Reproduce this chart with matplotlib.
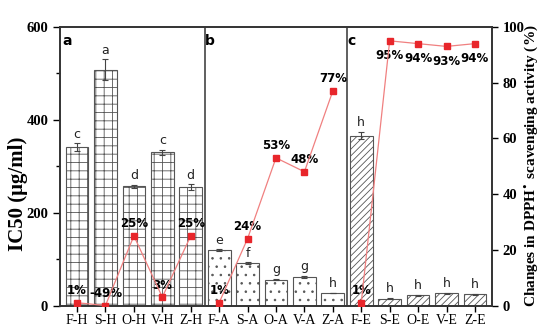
import numpy as np
import matplotlib
matplotlib.use("Agg")
import matplotlib.pyplot as plt

categories = ["F-H", "S-H", "O-H", "V-H", "Z-H",
              "F-A", "S-A", "O-A", "V-A", "Z-A",
              "F-E", "S-E", "O-E", "V-E", "Z-E"]
ic50 = [341, 508, 257, 330, 255,
        119, 91, 56, 62, 27,
        366, 15, 22, 26, 24]
ic50_err = [8, 22, 3, 5, 6,
            2, 2, 2, 2, 1,
            8, 1, 1, 1, 1]
letters = ["c", "a", "d", "c", "d",
           "e", "f", "g", "g", "h",
           "h", "h", "h", "h", "h"]
dpph_change = [1, -49, 25, 3, 25,
               1, 24, 53, 48, 77,
               1, 95, 94, 93, 94]
panel_labels = ["a", "b", "c"]
hatches = ["++", "..", "/////"]

serif = "Liberation Serif"

fig = plt.figure(figsize=(5.42, 3.27), dpi=100)
ax = fig.add_axes([0.1107, 0.0657, 0.797, 0.852])
ax2 = ax.twinx()

x = np.arange(len(categories))
plt.rcParams['hatch.linewidth'] = 0.6
plt.rcParams['hatch.color'] = "#555555"
for g in range(3):
    idx = x[g*5:(g+1)*5]
    ax.bar(idx, [ic50[i] for i in idx], width=0.8, color="white",
           edgecolor="#555555", linewidth=0.8, hatch=hatches[g],
           yerr=[ic50_err[i] for i in idx], error_kw=dict(ecolor="#444444", elinewidth=0.8, capsize=2, capthick=0.8),
           zorder=2)
for i in x:
    ax.text(i, ic50[i] + ic50_err[i] + 6, letters[i], ha="center", va="bottom",
            fontsize=9, color="#222222", family="DejaVu Sans")

ax.set_xlim(-0.6, 14.6)
ax.set_ylim(0, 600)
ax.set_yticks([0, 200, 400, 600])
ax.set_yticks([100, 300, 500], minor=True)
ax.set_xticks(x)
ax.set_xticklabels(categories, fontsize=10, family=serif)
for t in ax.get_yticklabels():
    t.set_fontfamily(serif); t.set_fontweight("bold"); t.set_fontsize(10.5)
ax.tick_params(axis="y", which="major", direction="out", length=5, width=1)
ax.tick_params(axis="y", which="minor", direction="out", length=3, width=1)
ax.tick_params(axis="x", direction="out", length=4, width=1, pad=2)
fig.text(18/542, 1 - 194/327, "IC50 (μg/ml)", rotation=90, ha="center", va="center",
         fontsize=15, fontweight="bold", family=serif)

for d in [4.5, 9.5]:
    ax.axvline(d, color="#444444", linewidth=1.2, zorder=3)
for g, lab in enumerate(panel_labels):
    ax.text(g*5 - 0.5, 585, lab, ha="left", va="top", fontsize=10, fontweight="bold", family="DejaVu Sans")

# line on right axis
yplot = np.clip(np.array(dpph_change, dtype=float), 0, None)
for g in range(3):
    idx = x[g*5:(g+1)*5]
    ax2.plot(idx, yplot[idx], color="#f08080", linewidth=0.9, zorder=4)
    ax2.plot(idx, yplot[idx], linestyle="none", marker="s", markersize=5,
             color="#e8262b", zorder=5)
for i in x:
    if i >= 11:
        ax2.text(i, yplot[i] - 3, f"{dpph_change[i]}%", ha="center", va="top",
                 fontsize=8.5, fontweight="bold", family="DejaVu Sans")
    else:
        ax2.text(i, yplot[i] + 2, f"{dpph_change[i]}%", ha="center", va="bottom",
                 fontsize=8.5, fontweight="bold", family="DejaVu Sans")

ax2.set_ylim(0, 100)
ax2.set_yticks([0, 20, 40, 60, 80, 100])
for t in ax2.get_yticklabels():
    t.set_fontfamily(serif); t.set_fontweight("bold"); t.set_fontsize(10.5)
ax2.tick_params(axis="y", direction="out", length=4, width=1)
fig.text(531/542, 1 - 166/327, "Changes in DPPH$^{\\bullet}$ scavenging activity (%)",
         rotation=90, ha="center", va="center", fontsize=11, fontweight="bold", family=serif)

for a in (ax, ax2):
    for s in a.spines.values():
        s.set_linewidth(1.2)
        s.set_color("#333333")

fig.savefig("out.png", dpi=100)
